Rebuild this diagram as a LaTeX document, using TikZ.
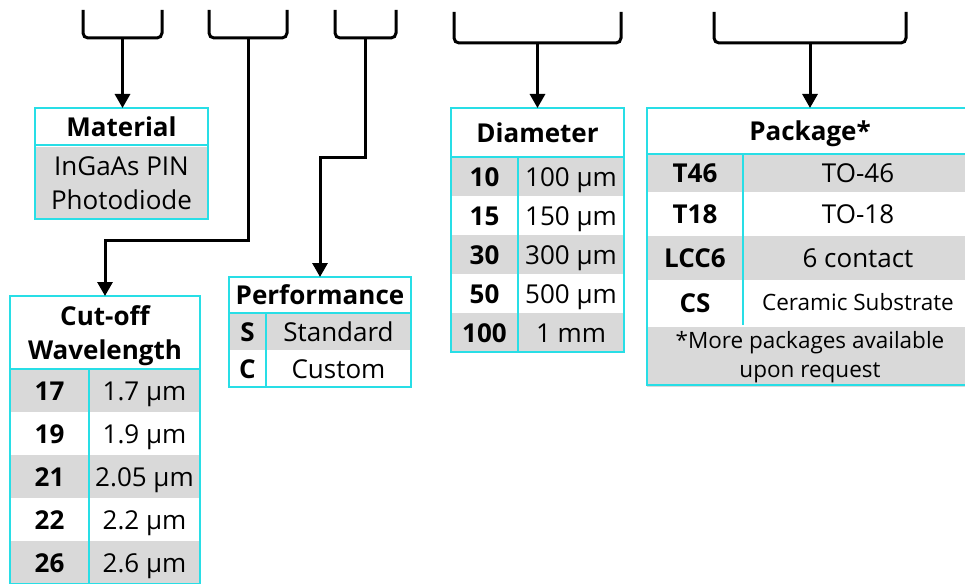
\documentclass[tikz,border=0pt]{standalone}
\usepackage{fontspec}
\setmainfont{Open Sans}
\usepackage{tikz}
\usetikzlibrary{arrows.meta}
\definecolor{cyanline}{RGB}{40,222,230}
\definecolor{cellgray}{RGB}{217,217,217}
\newcommand{\bigtxt}{\fontsize{26}{34}\selectfont}
\newcommand{\smalltxt}{\fontsize{22.5}{29}\selectfont}

\begin{document}
\begin{tikzpicture}[
  x=1pt, y=-1pt, font=\bigtxt,
  cell/.style={inner sep=0pt, outer sep=0pt, align=center},
  line/.style={cell, text height=19pt, text depth=0pt},
  hd/.style={line, font=\bigtxt\bfseries},
  hd2/.style={cell, font=\bigtxt\bfseries},
  cd/.style={line, font=\bigtxt\bfseries},
  vl/.style={line},
  gr/.style={fill=cellgray},
  wlc/.style={cd, minimum width=79, minimum height=43},
  wlv/.style={vl, minimum width=111, minimum height=43},
  pfc/.style={cd, minimum width=37, minimum height=37},
  pfv/.style={vl, minimum width=145, minimum height=37},
  dmc/.style={cd, minimum width=67, minimum height=39},
  dmv/.style={vl, minimum width=106, minimum height=39},
  pkc/.style={cd, minimum width=96},
  pkv/.style={vl, minimum width=230},
  frm/.style={draw=cyanline, line width=2pt},
  brk/.style={line width=3pt, rounded corners=5pt},
  ar/.style={line width=3pt, -{Triangle[length=14pt,width=15pt]}}
]
\useasboundingbox (0,0) rectangle (965,583);

% brackets on top
\draw[brk] (83,10)  -- (83,38)  -- coordinate (b1) (162,38) -- (162,10);
\draw[brk] (209,10) -- (209,38) -- coordinate (b2) (287,38) -- (287,10);
\draw[brk] (335,10) -- (335,38) -- coordinate (b3) (396,38) -- (396,10);
\draw[brk] (454,12) -- (454,43) -- coordinate (b4) (621,43) -- (621,12);
\draw[brk] (714,12) -- (714,43) -- coordinate (b5) (906,43) -- (906,12);

% material
\node[hd, minimum width=173, minimum height=37] (mat) at (121.5,126.5) {Material};
\node[cell, gr, minimum width=173, minimum height=72] (matv) at (121.5,183) {InGaAs PIN\\Photodiode};
\draw[frm] (mat.north west) rectangle (matv.south east);
\draw[frm] (mat.south west) -- (mat.south east);

% cut-off wavelength
\node[hd2, minimum width=190, minimum height=73] (cut) at (105,336) {Cut-off\\Wavelength};
\node[wlc, gr] (c17) at (49.5,390.5) {17};
\node[wlv, gr] (c17v) at (144.5,390.5) {1.7 µm};
\node[wlc] (c19) at (49.5,433.5) {19};
\node[wlv] (c19v) at (144.5,433.5) {1.9 µm};
\node[wlc, gr] (c21) at (49.5,476.5) {21};
\node[wlv, gr] (c21v) at (144.5,476.5) {2.05 µm};
\node[wlc] (c22) at (49.5,519.5) {22};
\node[wlv] (c22v) at (144.5,519.5) {2.2 µm};
\node[wlc, gr] (c26) at (49.5,562.5) {26};
\node[wlv, gr] (c26v) at (144.5,562.5) {2.6 µm};
\draw[frm] (cut.north west |- 0,296) rectangle (c26v.south east);
\draw[frm] (c17.north west) -- (c17v.north east);
\draw[frm] (c17.north east) -- (c26.south east);

% performance
\node[hd, minimum width=182, minimum height=36] (perf) at (320,295) {Performance};
\node[pfc, gr] (ps) at (247.5,331.5) {S};
\node[pfv, gr] (psv) at (338.5,331.5) {Standard};
\node[pfc] (pc) at (247.5,368.5) {C};
\node[pfv] (pcv) at (338.5,368.5) {Custom};
\draw[frm] (perf.north west) rectangle (pcv.south east);
\draw[frm] (perf.south west) -- (perf.south east);
\draw[frm] (ps.north east) -- (pc.south east);

% diameter
\node[hd, minimum width=173, minimum height=49] (dia) at (537.5,132.5) {Diameter};
\node[dmc, gr] (d10) at (484.5,176.5) {10};
\node[dmv, gr] (d10v) at (571,176.5) {100 µm};
\node[dmc] (d15) at (484.5,215.5) {15};
\node[dmv] (d15v) at (571,215.5) {150 µm};
\node[dmc, gr] (d30) at (484.5,254.5) {30};
\node[dmv, gr] (d30v) at (571,254.5) {300 µm};
\node[dmc] (d50) at (484.5,293.5) {50};
\node[dmv] (d50v) at (571,293.5) {500 µm};
\node[dmc, gr] (d100) at (484.5,332.5) {100};
\node[dmv, gr] (d100v) at (571,332.5) {1 mm};
\draw[frm] (dia.north west) rectangle (d100v.south east);
\draw[frm] (dia.south west) -- (dia.south east);
\draw[frm] (d10.north east) -- (d100.south east);

% package
\node[hd, minimum width=326, minimum height=46] (pkg) at (810,131) {Package*};
\node[pkc, gr, minimum height=38] (p46) at (695,173) {T46};
\node[pkv, gr, minimum height=38] (p46v) at (858,173) {TO-46};
\node[pkc, minimum height=44] (p18) at (695,214) {T18};
\node[pkv, minimum height=44] (p18v) at (858,214) {TO-18};
\node[pkc, gr, minimum height=44] (plcc) at (695,258) {LCC6};
\node[pkv, gr, minimum height=44] (plccv) at (858,258) {6 contact};
\node[pkc, minimum height=45] (pcs) at (695,302.5) {CS};
\node[pkv, minimum height=45, font=\smalltxt, text height=16pt] (pcsv) at (858,302.5) {Ceramic Substrate};
\node[cell, gr, minimum width=326, minimum height=60, font=\smalltxt] (pnote) at (810,357) {*More packages available\\upon request};
\draw[frm] (pkg.north west) rectangle (pnote.south east |- 0,385);
\draw[frm] (pkg.south west) -- (pkg.south east);
\draw[frm] (p46.north east) -- (pcs.south east);

% connectors
\draw[ar] (b1) -- (b1 |- mat.north);
\draw[ar] (b2) -- ++(0,202) -| (cut.north |- 0,296);
\draw[ar] (b3) -- ++(0,119) -| (perf.north);
\draw[ar] (b4) -- (b4 |- dia.north);
\draw[ar] (b5) -- (pkg.north);
\end{tikzpicture}
\end{document}
